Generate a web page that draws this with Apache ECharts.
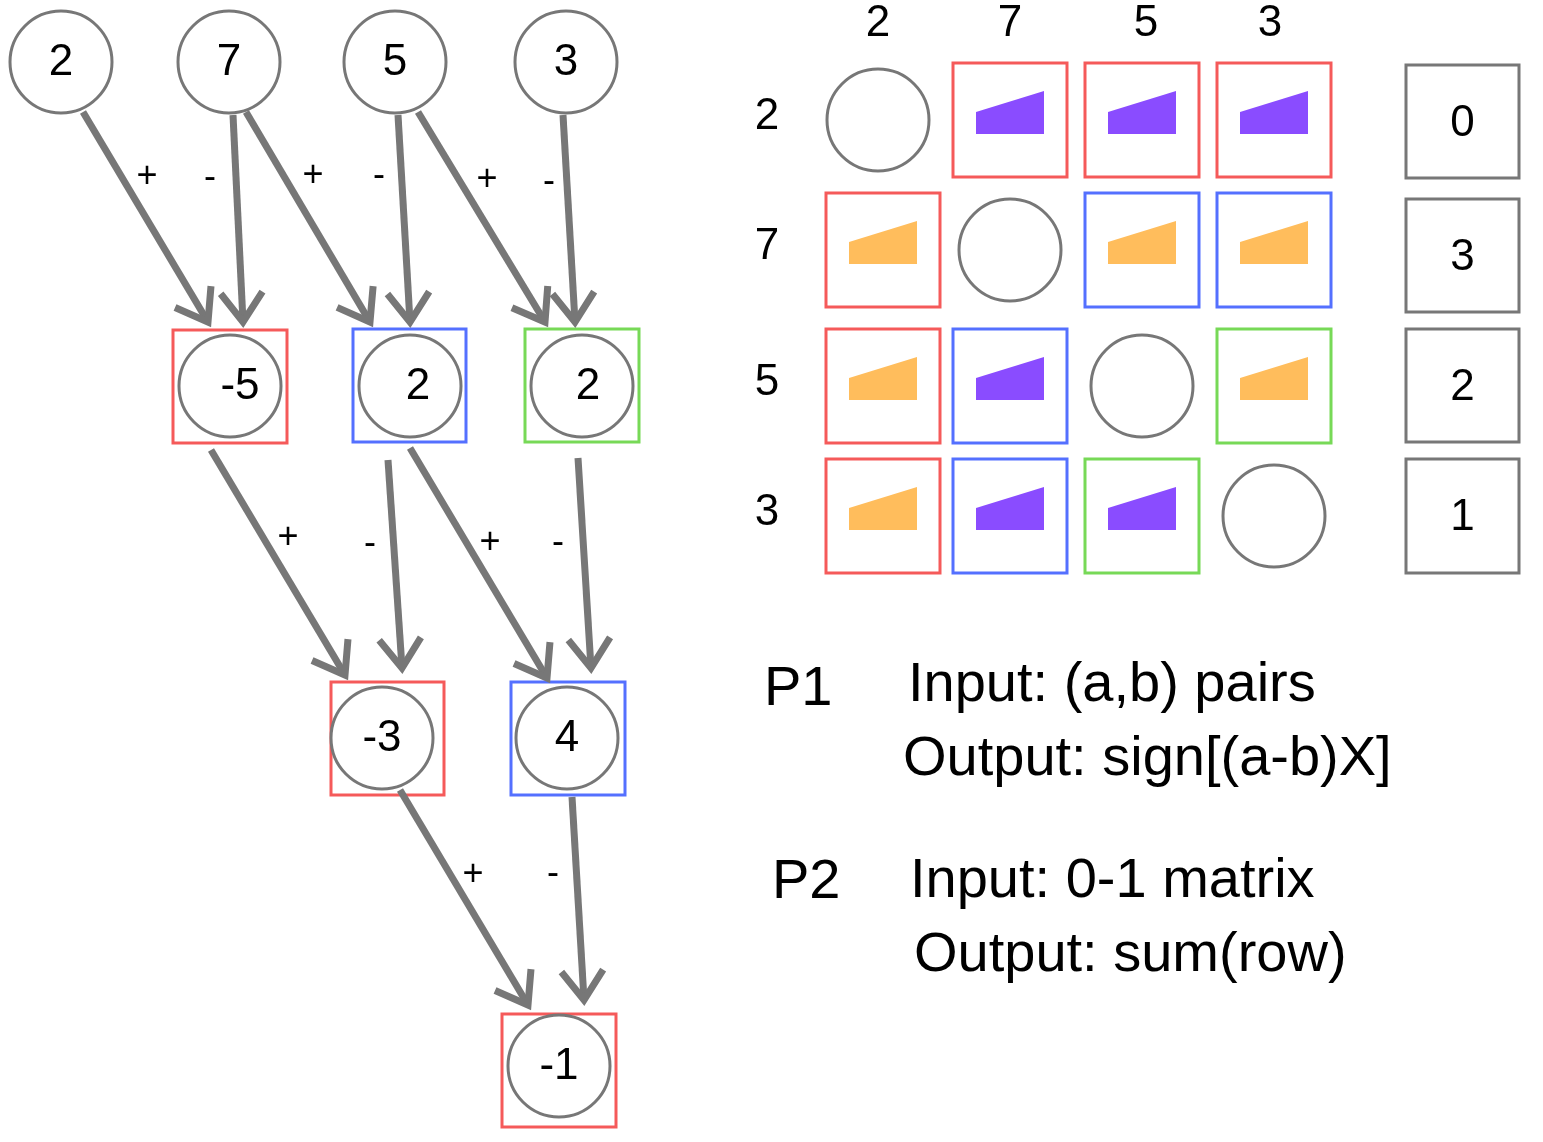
<!DOCTYPE html>
<html>
<head>
<meta charset="utf-8">
<script src="https://cdn.jsdelivr.net/npm/echarts@6/dist/echarts.min.js"></script>
<style>
  html, body { margin: 0; padding: 0; background: #fff; }
  #chart { width: 1543px; height: 1142px; }
</style>
</head>
<body>
<div id="chart"></div>
<script>
// colours
const RED = "#f55a5a";
const BLUE = "#5470ff";
const GREEN = "#77d957";
const GREY = "#777777";
const PURPLE = "#8a4cff";
const ORANGE = "#ffbd5c";

// tree nodes: [x, y, label]
const treeNodes = [
    [61, 62, "2"], [229, 62, "7"], [395, 62, "5"], [566, 62, "3"],
    [230, 386, "-5"], [410, 386, "2"], [582, 386, "2"],
    [382, 738, "-3"], [567, 738, "4"],
    [559, 1066, "-1"]
];
// label offset inside circles (the lower ones sit a little right)
const treeLabelDx = [0, 0, 0, 0, 10, 8, 6, 0, 0, 0];

// tree boxes: [x0, y0, x1, y1, colour]
const treeBoxes = [
    [173, 330, 287, 443, RED], [353, 329, 466, 442, BLUE], [525, 329, 639, 442, GREEN],
    [331, 682, 444, 795, RED], [511, 682, 625, 795, BLUE],
    [502, 1014, 616, 1127, RED]
];

// arrows: [x from, y from, x to, y to]
const arrows = [
    [83, 112, 208, 322], [233, 115, 243, 322], [246, 112, 370, 322],
    [398, 115, 410, 322], [418, 112, 545, 322], [563, 115, 575, 322],
    [211, 450, 345, 675], [388, 460, 402, 668], [410, 448, 547, 678], [578, 458, 591, 668],
    [400, 790, 528, 1005], [572, 797, 584, 1000]
];

// +/- signs on edges: [x, y, text]
const signs = [
    [147, 177, "+"], [210, 178, "-"], [313, 176, "+"], [379, 176, "-"], [487, 180, "+"], [549, 182, "-"],
    [288, 538, "+"], [370, 544, "-"], [490, 543, "+"], [558, 543, "-"],
    [473, 875, "+"], [553, 874, "-"]
];

// matrix
const matValues = ["2", "7", "5", "3"];
const colCenters = [883, 1010, 1142, 1274];
const rowCenters = [120, 250, 386, 516];
const headerX = [878, 1010, 1146, 1270];
const headerY = 24;
const rowLabelX = 767;
// cell kind: o = circle, p = purple wedge, y = orange wedge ; colour of frame
const cellKind = [
    ["o", "p", "p", "p"],
    ["y", "o", "y", "y"],
    ["y", "p", "o", "y"],
    ["y", "p", "p", "o"]
];
const cellColor = [
    [null, RED, RED, RED],
    [RED, null, BLUE, BLUE],
    [RED, BLUE, null, GREEN],
    [RED, BLUE, GREEN, null]
];
const rowSums = ["0", "3", "2", "1"];
const sumBoxX = [1406, 1519];
const sumBoxY = [[65, 178], [199, 312], [329, 442], [459, 573]];

// text block: [x, y, text]
const notes = [
    [764, 690, "P1"], [908, 686, "Input: (a,b) pairs"], [903, 760, "Output: sign[(a-b)X]"],
    [772, 883, "P2"], [910, 882, "Input: 0-1 matrix"], [914, 956, "Output: sum(row)"]
];

// build cell list
const cells = [];
for (let r = 0; r < 4; r++) {
    for (let c = 0; c < 4; c++) {
        cells.push([colCenters[c], rowCenters[r], cellKind[r][c], cellColor[r][c]]);
    }
}
const headers = [];
matValues.forEach((v, i) => {
    headers.push([headerX[i], headerY, v]);
    headers.push([rowLabelX, rowCenters[i] - 3, v]);
});
const sums = rowSums.map((v, i) => [sumBoxX[0], sumBoxY[i][0], sumBoxX[1], sumBoxY[i][1], v]);

const FONT = "Liberation Sans";

function textItem(api, x, y, text, size, align) {
    const p = api.coord([x, y]);
    return {
        type: "text",
        style: { x: p[0], y: p[1], text: text, fill: "#000", font: size + "px " + FONT, align: align || "center", verticalAlign: "middle" }
    };
}

const chart = echarts.init(document.getElementById("chart"));
chart.setOption({
    animation: false,
    grid: { left: 0, right: 0, top: 0, bottom: 0 },
    xAxis: { type: "value", min: 0, max: 1543, show: false },
    yAxis: { type: "value", min: 0, max: 1142, inverse: true, show: false },
    series: [
        {
            // tree boxes
            type: "custom",
            data: treeBoxes,
            renderItem(params, api) {
                const b = treeBoxes[params.dataIndex];
                const p0 = api.coord([b[0], b[1]]);
                const p1 = api.coord([b[2], b[3]]);
                return { type: "rect", shape: { x: p0[0], y: p0[1], width: p1[0] - p0[0], height: p1[1] - p0[1] }, style: { fill: "none", stroke: b[4], lineWidth: 3 } };
            }
        },
        {
            // tree nodes
            type: "custom",
            data: treeNodes,
            renderItem(params, api) {
                const n = treeNodes[params.dataIndex];
                const p = api.coord([n[0], n[1]]);
                return {
                    type: "group",
                    children: [
                        { type: "circle", shape: { cx: p[0], cy: p[1], r: 51 }, style: { fill: "#fff", stroke: GREY, lineWidth: 3 } },
                        textItem(api, n[0] + treeLabelDx[params.dataIndex], n[1] + 1, n[2], 44)
                    ]
                };
            }
        },
        {
            // arrows
            type: "custom",
            data: arrows,
            renderItem(params, api) {
                const a = arrows[params.dataIndex];
                const p0 = api.coord([a[0], a[1]]);
                const p1 = api.coord([a[2], a[3]]);
                const ang = Math.atan2(p1[1] - p0[1], p1[0] - p0[0]);
                const len = 36, spread = 0.62;
                const h1 = [p1[0] - len * Math.cos(ang - spread), p1[1] - len * Math.sin(ang - spread)];
                const h2 = [p1[0] - len * Math.cos(ang + spread), p1[1] - len * Math.sin(ang + spread)];
                const st = { stroke: GREY, lineWidth: 7, fill: "none", lineCap: "butt", lineJoin: "miter" };
                return {
                    type: "group",
                    children: [
                        { type: "line", shape: { x1: p0[0], y1: p0[1], x2: p1[0], y2: p1[1] }, style: st },
                        { type: "polyline", shape: { points: [h1, p1, h2] }, style: st }
                    ]
                };
            }
        },
        {
            // signs
            type: "custom",
            data: signs,
            renderItem(params, api) {
                const s = signs[params.dataIndex];
                return textItem(api, s[0], s[1], s[2], 36);
            }
        },
        {
            // matrix cells
            type: "custom",
            data: cells,
            renderItem(params, api) {
                const c = cells[params.dataIndex];
                const p = api.coord([c[0], c[1]]);
                if (c[2] === "o") {
                    const dx = params.dataIndex === 0 ? -5 : 0;
                    return { type: "circle", shape: { cx: p[0] + dx, cy: p[1], r: 51 }, style: { fill: "#fff", stroke: GREY, lineWidth: 3 } };
                }
                const col = c[2] === "p" ? PURPLE : ORANGE;
                return {
                    type: "group",
                    children: [
                        { type: "rect", shape: { x: p[0] - 57, y: p[1] - 57, width: 114, height: 114 }, style: { fill: "none", stroke: c[3], lineWidth: 3 } },
                        { type: "polygon", shape: { points: [[p[0] - 34, p[1] + 14], [p[0] + 34, p[1] + 14], [p[0] + 34, p[1] - 29], [p[0] - 34, p[1] - 8]] }, style: { fill: col } }
                    ]
                };
            }
        },
        {
            // headers
            type: "custom",
            data: headers,
            renderItem(params, api) {
                const h = headers[params.dataIndex];
                return textItem(api, h[0], h[1], h[2], 44);
            }
        },
        {
            // row sums
            type: "custom",
            data: sums,
            renderItem(params, api) {
                const s = sums[params.dataIndex];
                const p0 = api.coord([s[0], s[1]]);
                const p1 = api.coord([s[2], s[3]]);
                return {
                    type: "group",
                    children: [
                        { type: "rect", shape: { x: p0[0], y: p0[1], width: p1[0] - p0[0], height: p1[1] - p0[1] }, style: { fill: "none", stroke: GREY, lineWidth: 3 } },
                        textItem(api, (s[0] + s[2]) / 2, (s[1] + s[3]) / 2 + 2, s[4], 44)
                    ]
                };
            }
        },
        {
            // notes
            type: "custom",
            data: notes,
            renderItem(params, api) {
                const n = notes[params.dataIndex];
                return textItem(api, n[0], n[1], n[2], 56, "left");
            }
        }
    ]
});
</script>
</body>
</html>
